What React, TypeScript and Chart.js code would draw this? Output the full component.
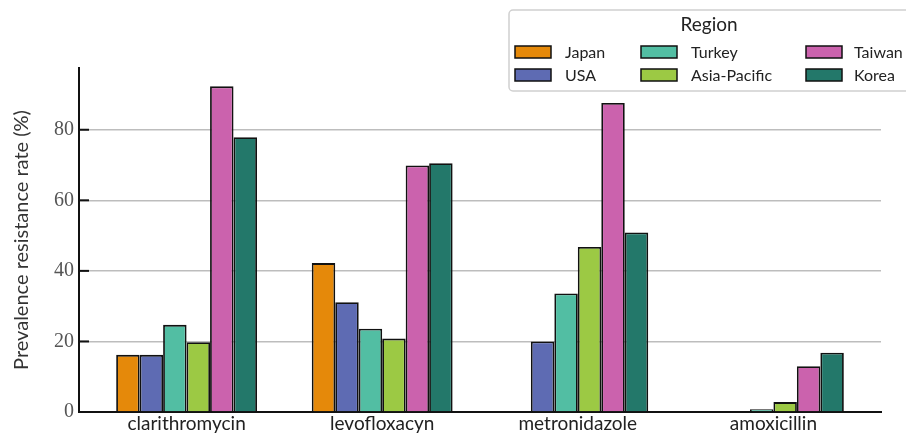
import React, { useEffect, useRef } from "react";
import { Chart, registerables } from "chart.js";

Chart.register(...registerables);

const categories = ["clarithromycin", "levofloxacyn", "metronidazole", "amoxicillin"];
const regions = ["Japan", "USA", "Turkey", "Asia-Pacific", "Taiwan", "Korea"];
const japan = [16.2, 42.2, null, null];
const usa = [16.2, 31.1, 20.0, null];
const turkey = [24.7, 23.6, 33.6, 0.8];
const asiaPacific = [19.8, 20.8, 46.8, 2.8];
const taiwan = [92.3, 69.9, 87.6, 13.0];
const korea = [77.9, 70.5, 50.9, 16.8];
const seriesValues = [japan, usa, turkey, asiaPacific, taiwan, korea];
const colors = ["#E5890A", "#5E6BB3", "#52BEA3", "#9CC944", "#CB62AD", "#23786A"];
const yTicks = [0, 20, 40, 60, 80];

const legendPlugin = {
  id: "regionLegend",
  afterDraw(chart: any) {
    const ctx = chart.ctx;
    ctx.save();
    const x0 = 509, y0 = 10, w = 410, h = 81, r = 4;
    ctx.beginPath();
    ctx.moveTo(x0 + r, y0);
    ctx.lineTo(x0 + w - r, y0);
    ctx.arcTo(x0 + w, y0, x0 + w, y0 + r, r);
    ctx.lineTo(x0 + w, y0 + h - r);
    ctx.arcTo(x0 + w, y0 + h, x0 + w - r, y0 + h, r);
    ctx.lineTo(x0 + r, y0 + h);
    ctx.arcTo(x0, y0 + h, x0, y0 + h - r, r);
    ctx.lineTo(x0, y0 + r);
    ctx.arcTo(x0, y0, x0 + r, y0, r);
    ctx.closePath();
    ctx.fillStyle = "rgba(255,255,255,0.85)";
    ctx.fill();
    ctx.strokeStyle = "#d0d0d0";
    ctx.lineWidth = 1.5;
    ctx.stroke();
    ctx.fillStyle = "#222";
    ctx.font = "19px Lato";
    ctx.textAlign = "center";
    ctx.textBaseline = "middle";
    ctx.fillText("Region", 709, 25);
    const swX = [515, 641, 806];
    const txX = [565, 691, 854];
    const rowY = [52, 75];
    ctx.font = "16px Lato";
    ctx.textAlign = "left";
    chart.data.datasets.forEach((ds: any, i: number) => {
      const c = Math.floor(i / 2);
      const rr = i % 2;
      ctx.fillStyle = ds.backgroundColor;
      ctx.fillRect(swX[c], rowY[rr] - 6, 36, 12);
      ctx.strokeStyle = "#111";
      ctx.lineWidth = 1.5;
      ctx.strokeRect(swX[c], rowY[rr] - 6, 36, 12);
      ctx.fillStyle = "#222";
      ctx.fillText(ds.label, txX[c], rowY[rr] + 1);
    });
    ctx.restore();
  },
};

const inwardTicks = {
  id: "inwardTicks",
  afterDatasetsDraw(chart: any) {
    const ctx = chart.ctx;
    const y = chart.scales.y;
    const left = chart.chartArea.left;
    ctx.save();
    ctx.strokeStyle = "#111";
    ctx.lineWidth = 2;
    yTicks.forEach((v) => {
      if (v === 0) return;
      const py = y.getPixelForValue(v);
      ctx.beginPath();
      ctx.moveTo(left, py);
      ctx.lineTo(left + 10, py);
      ctx.stroke();
    });
    ctx.restore();
  },
};

export default function App() {
  const ref = useRef<HTMLCanvasElement | null>(null);
  useEffect(() => {
    if (!ref.current) return;
    const chart = new Chart(ref.current, {
      type: "bar",
      data: {
        datasets: regions.map((name, k) => ({
          label: name,
          data: seriesValues[k].map((v, i) => ({ x: i, y: v })),
          backgroundColor: colors[k],
          borderColor: "#111",
          borderWidth: 1.8,
          categoryPercentage: 0.72,
          barPercentage: 1.0,
        })),
      },
      options: {
        animation: false,
        responsive: false,
        layout: { padding: { top: 68, right: 25, left: 0, bottom: 0 } },
        plugins: { legend: { display: false }, tooltip: { enabled: false } },
        scales: {
          x: {
            type: "linear",
            min: -0.55,
            max: 3.55,
            offset: false,
            afterBuildTicks: (scale: any) => {
              scale.ticks = categories.map((_, i) => ({ value: i }));
            },
            afterFit: (scale: any) => {
              scale.height = 23;
            },
            ticks: {
              callback: (v: any) => categories[v] ?? "",
              font: { family: "Lato", size: 19 },
              color: "#222",
              padding: 0,
              maxRotation: 0,
              autoSkip: false,
            },
            grid: { display: false, drawTicks: false, offset: false },
            border: { color: "#111", width: 2 },
          },
          y: {
            min: 0,
            max: 97.5,
            afterBuildTicks: (scale: any) => {
              scale.ticks = yTicks.map((v) => ({ value: v }));
            },
            afterFit: (scale: any) => {
              scale.width = 79;
            },
            ticks: {
              font: { family: "Liberation Serif", size: 20 },
              color: "#555",
              padding: 5,
            },
            grid: { color: "#bdbdbd", lineWidth: 1.5, drawTicks: false },
            border: { color: "#111", width: 2 },
            title: {
              display: true,
              text: "Prevalence resistance rate (%)",
              font: { family: "Lato", size: 20 },
              color: "#333",
              padding: { top: 10, bottom: 0 },
            },
          },
        },
      },
      plugins: [inwardTicks, legendPlugin],
    } as any);
    return () => chart.destroy();
  }, []);
  return (
    <div style={{ position: "fixed", left: 0, top: 0, width: 906, height: 435, background: "#fff" }}>
      <canvas ref={ref} width={906} height={435} style={{ display: "block" }} />
    </div>
  );
}
